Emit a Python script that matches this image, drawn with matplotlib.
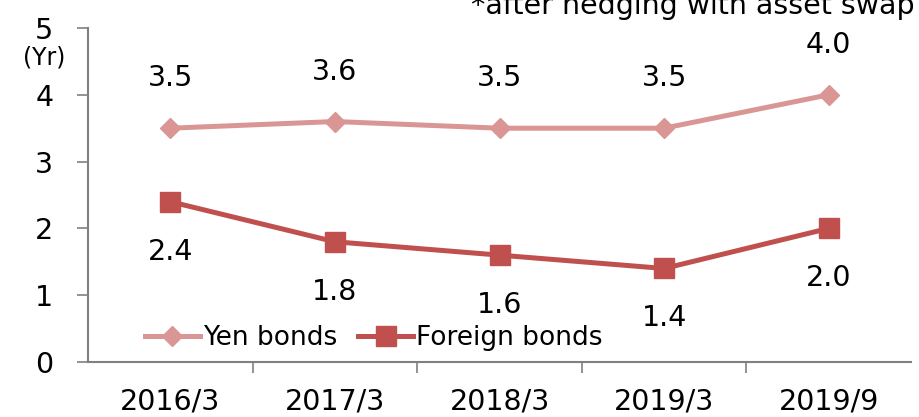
import numpy as np
import matplotlib
matplotlib.use("Agg")
import matplotlib.pyplot as plt

# data
periods = ["2016/3", "2017/3", "2018/3", "2019/3", "2019/9"]
yen_bonds = [3.5, 3.6, 3.5, 3.5, 4.0]
foreign_bonds = [2.4, 1.8, 1.6, 1.4, 2.0]

yen_color = "#D99694"
foreign_color = "#C0504D"
axis_color = "#808080"
fs = 20.5

plt.rcParams["font.family"] = ["DejaVu Sans"]

fig = plt.figure(figsize=(9.19, 4.17), dpi=100)
ax = fig.add_axes([88 / 919, 1 - 362 / 417, (911 - 88) / 919, (362 - 28) / 417])

x = np.arange(len(periods))
ax.plot(x, yen_bonds, color=yen_color, lw=3.6, marker="D", ms=10,
        label="Yen bonds", clip_on=False)
ax.plot(x, foreign_bonds, color=foreign_color, lw=3.6, marker="s", ms=14,
        label="Foreign bonds", clip_on=False)

for xi, v in zip(x, yen_bonds):
    ax.annotate(f"{v:.1f}", (xi, v), xytext=(0, 36), textcoords="offset points",
                ha="center", va="center", fontsize=fs)
for xi, v in zip(x, foreign_bonds):
    ax.annotate(f"{v:.1f}", (xi, v), xytext=(0, -36), textcoords="offset points",
                ha="center", va="center", fontsize=fs)

ax.set_xlim(-0.5, len(periods) - 0.5)
ax.set_ylim(0, 5)
ax.set_yticks(range(6))
ax.set_xticks(x)
ax.set_xticklabels(periods)
ax.set_xticks(np.arange(0.5, len(periods) - 0.5), minor=True)

ax.tick_params(axis="x", which="major", length=0, pad=18, labelsize=fs)
ax.tick_params(axis="x", which="minor", length=8, width=1.2, color=axis_color)
ax.tick_params(axis="y", length=8, width=1.2, color=axis_color, pad=17, labelsize=fs)

for side in ["top", "right"]:
    ax.spines[side].set_visible(False)
for side in ["left", "bottom"]:
    ax.spines[side].set_color(axis_color)
    ax.spines[side].set_linewidth(1.5)

fig.text(44 / 919, 1 - 57 / 417, "(Yr)", ha="center", va="center", fontsize=17)
fig.text(915 / 919, 1 - 14 / 417, "*after hedging with asset swap",
         ha="right", va="baseline", fontsize=fs)

ax.legend(loc="lower left", bbox_to_anchor=(0.056, 0.0), ncol=2, frameon=False,
          fontsize=19, handlelength=2.1, handletextpad=0.1, columnspacing=0.8,
          borderaxespad=0)

fig.savefig("out.png", dpi=100)
